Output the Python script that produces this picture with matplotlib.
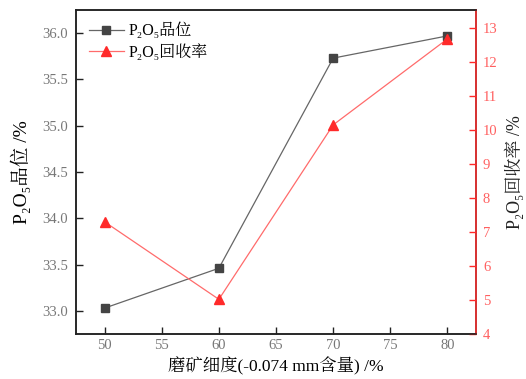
import matplotlib
matplotlib.use("Agg")

import matplotlib.pyplot as plt

plt.rcParams["font.family"] = ["Liberation Serif", "DejaVu Serif", "Noto Serif CJK SC", "Noto Sans CJK SC"]

# 磨矿细度 (-0.074 mm 含量, %)
fineness = [50, 60, 70, 80]
grade = [33.03, 33.46, 35.73, 35.97]      # P2O5 品位 /%
recovery = [7.30, 5.02, 10.15, 12.68]     # P2O5 回收率 /%

red = "#ff2a2a"
red_light = "#ff6b6b"

fig = plt.figure(figsize=(5.26, 3.79), dpi=100)
ax1 = fig.add_axes([0.1445, 0.1187, 0.7605, 0.855])
ax2 = ax1.twinx()

l1, = ax1.plot(fineness, grade, color="#666666", lw=0.9, marker="s",
               markersize=5.5, markerfacecolor="#444444",
               markeredgecolor="#444444", label="P₂O₅品位")
l2, = ax2.plot(fineness, recovery, color=red_light, lw=0.9, marker="^",
               markersize=6.5, markerfacecolor=red, markeredgecolor=red,
               label="P₂O₅回收率")

ax1.set_xlim(47.5, 82.5)
ax1.set_ylim(32.75, 36.25)
ax2.set_ylim(4, 13.53)

ax1.set_xticks([50, 55, 60, 65, 70, 75, 80])
ax1.set_yticks([33.0, 33.5, 34.0, 34.5, 35.0, 35.5, 36.0])
ax1.set_yticklabels([f"{v:.1f}" for v in ax1.get_yticks()])
ax2.set_yticks(range(4, 14))

ax1.tick_params(axis="both", direction="in", length=5, width=1,
                labelsize=10.5, colors="#222222", labelcolor="#777777")
ax1.tick_params(axis="y", pad=6)
ax2.tick_params(axis="y", direction="in", length=5, width=1,
                labelsize=10.5, colors=red, labelcolor="#ff6060", pad=5)

for s in ax1.spines.values():
    s.set_linewidth(1.1)
    s.set_color("#222222")
for s in ax2.spines.values():
    s.set_linewidth(1.1)
    s.set_color("#222222")
ax2.spines["right"].set_color(red)

ax1.set_xlabel("磨矿细度(-0.074 mm含量) /%", fontsize=12.5)
ax1.set_ylabel("P₂O₅品位 /%", fontsize=14, labelpad=8)
ax2.set_ylabel("P₂O₅回收率 /%", fontsize=13, color="#222222", labelpad=5)

ax1.legend(handles=[l1, l2], loc="upper left", frameon=False,
           fontsize=11.5, handlelength=2.2, borderaxespad=0.4,
           labelspacing=0.3, handletextpad=0.3)

plt.savefig("out.png", dpi=100)
plt.close()
